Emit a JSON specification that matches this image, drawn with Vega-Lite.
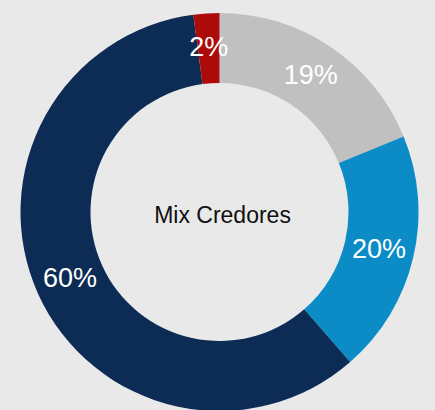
{
  "$schema": "https://vega.github.io/schema/vega-lite/v6.json",
  "width": 435,
  "height": 410,
  "autosize": {"type": "fit", "contains": "padding"},
  "padding": {"top": 14, "left": 4, "right": 0, "bottom": 0},
  "background": "#e9e9e9",
  "view": {"stroke": null},
  "data": {
    "values": [
      {"ordem": 1, "categoria": "Credor A", "valor": 18.8, "rotulo": "19%"},
      {"ordem": 2, "categoria": "Credor B", "valor": 19.8, "rotulo": "20%"},
      {"ordem": 3, "categoria": "Credor C", "valor": 59.3, "rotulo": "60%"},
      {"ordem": 4, "categoria": "Credor D", "valor": 2.1, "rotulo": "2%"}
    ]
  },
  "layer": [
    {
      "mark": {"type": "arc", "outerRadius": 199, "innerRadius": 129},
      "encoding": {
        "theta": {"field": "valor", "type": "quantitative", "stack": true},
        "order": {"field": "ordem", "type": "quantitative"},
        "color": {
          "field": "categoria",
          "type": "nominal",
          "scale": {
            "domain": ["Credor A", "Credor B", "Credor C", "Credor D"],
            "range": ["#c0c0c0", "#0b8cc7", "#0c2c55", "#ad0a0a"]
          },
          "legend": null
        }
      }
    },
    {
      "mark": {"type": "text", "radius": 164, "fontSize": 27, "font": "Liberation Sans", "color": "#ffffff"},
      "encoding": {
        "theta": {"field": "valor", "type": "quantitative", "stack": true},
        "order": {"field": "ordem", "type": "quantitative"},
        "text": {"field": "rotulo", "type": "nominal"}
      }
    },
    {
      "data": {"values": [{"titulo": "Mix Credores"}]},
      "mark": {"type": "text", "fontSize": 23, "font": "Liberation Sans", "color": "#111111", "dx": 3, "dy": 4},
      "encoding": {
        "text": {"field": "titulo", "type": "nominal"}
      }
    }
  ]
}
